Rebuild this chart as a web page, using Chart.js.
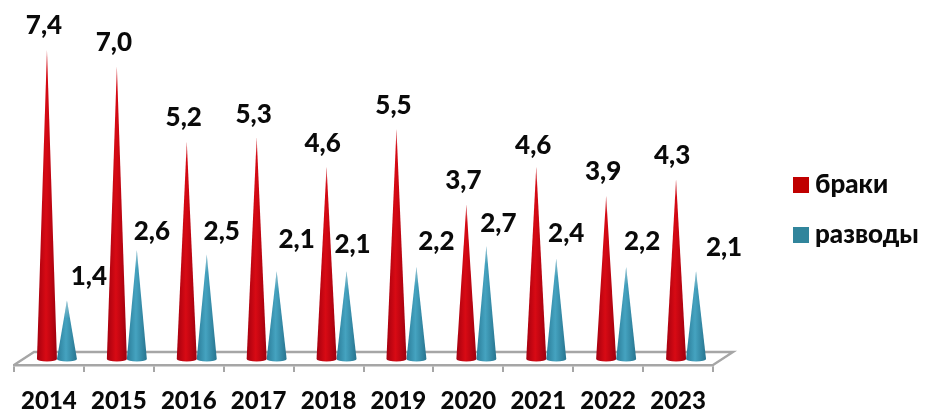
<!DOCTYPE html>
<html><head><meta charset="utf-8">
<style>html,body{margin:0;padding:0;background:#fff}canvas{display:block}</style>
<script src="https://cdn.jsdelivr.net/npm/chart.js@4/dist/chart.umd.min.js"></script>
</head><body><canvas id="c" width="925" height="412"></canvas>
<script>
const years = ['2014','2015','2016','2017','2018','2019','2020','2021','2022','2023'];
const marriages = [7.4,7.0,5.2,5.3,4.6,5.5,3.7,4.6,3.9,4.3];
const divorces = [1.4,2.6,2.5,2.1,2.1,2.2,2.7,2.4,2.2,2.1];
const seriesNames = ['браки','разводы'];
const marriageLabelDx = [-3,-3,-3,-3,-4,-3,-3,-3,-3,-4];
const marriageLabelDy = [-24,-24,-24,-23,-23,-23,-24,-21,-24,-24];
const divorceLabelDx = [22,15,15,20,6,20,12,10,16,28];
const divorceLabelDy = [-24,-19,-23,-32,-27,-25,-23,-25,-25,-24];

const FAMILY = 'Lato, "Open Sans", sans-serif';
const FONT = '900 26px ' + FAMILY;
const SHADES = {'#c00000':['#a4000f','#d80a14','#a0000f'],'#31859c':['#2a7c98','#45a3c0','#27748f']};
const DEPTH_X = 8, DEPTH_Y = 6, FLOOR_X = 20, FLOOR_Y = 13, AXIS = '#a6a6a6';

Chart.BarElement.prototype.draw = function(ctx){
  const {x,y,base,width} = this.getProps(['x','y','base','width']);
  const cx = x + DEPTH_X, tip = y - DEPTH_Y, by = base - DEPTH_Y, r = width/2;
  const s = SHADES[this.options.backgroundColor];
  const g = ctx.createLinearGradient(cx-r,0,cx+r,0);
  g.addColorStop(0,s[0]); g.addColorStop(.45,s[1]); g.addColorStop(1,s[2]);
  const path = () => { ctx.beginPath(); ctx.moveTo(cx,tip); ctx.lineTo(cx+r,by);
    ctx.ellipse(cx,by,r,2.6,0,0,Math.PI); ctx.closePath(); };
  ctx.save(); ctx.fillStyle = g; path(); ctx.fill();
  const f = ctx.createLinearGradient(0,tip,0,tip+18);
  f.addColorStop(0,'rgba(225,225,225,.55)'); f.addColorStop(1,'rgba(225,225,225,0)');
  ctx.fillStyle = f; path(); ctx.fill(); ctx.restore();
};

const floorPlugin = {id:'floor', beforeDatasetsDraw(chart){
  const {ctx,chartArea:a} = chart;
  ctx.save(); ctx.strokeStyle = AXIS; ctx.lineWidth = 2.4; ctx.beginPath();
  ctx.moveTo(a.left,a.bottom); ctx.lineTo(a.left+FLOOR_X,a.bottom-FLOOR_Y);
  ctx.lineTo(a.right+FLOOR_X,a.bottom-FLOOR_Y); ctx.lineTo(a.right,a.bottom); ctx.stroke();
  ctx.restore();
}};
const textPlugin = {id:'texts', afterDatasetsDraw(chart){
  const ctx = chart.ctx;
  ctx.save(); ctx.font = FONT; ctx.fillStyle = '#0a0a0a'; ctx.textAlign='center'; ctx.textBaseline='middle';
  const dxs=[marriageLabelDx,divorceLabelDx], dys=[marriageLabelDy,divorceLabelDy];
  chart.data.datasets.forEach((ds,d)=>{
    chart.getDatasetMeta(d).data.forEach((el,i)=>{
      ctx.fillText(ds.data[i].toFixed(1).replace('.',','), el.x+DEPTH_X+dxs[d][i], el.y-DEPTH_Y+dys[d][i]);
    });
  });
  ctx.textAlign='left';
  chart.data.datasets.forEach((ds,d)=>{
    const ly = 185 + d*50;
    ctx.fillStyle = ds.backgroundColor; ctx.fillRect(793,ly-8,16,16);
    ctx.fillStyle = '#0a0a0a'; ctx.fillText(ds.label,815,ly);
  });
  ctx.restore();
}};

new Chart(document.getElementById('c'),{
  type:'bar',
  data:{labels:years,datasets:[
    {label:seriesNames[0],data:marriages,backgroundColor:'#c00000'},
    {label:seriesNames[1],data:divorces,backgroundColor:'#31859c'}
  ]},
  options:{
    responsive:false,animation:false,
    layout:{padding:{left:14,right:212,top:30.6,bottom:0}},
    datasets:{bar:{categoryPercentage:.572,barPercentage:1}},
    plugins:{legend:{display:false},tooltip:{enabled:false}},
    scales:{
      y:{display:false,min:0,max:8},
      x:{
        afterFit(s){s.height=47;},
        border:{color:AXIS,width:2.4},
        grid:{drawOnChartArea:false,color:AXIS,lineWidth:2,tickLength:7},
        ticks:{color:'#0a0a0a',font:{family:FAMILY,size:24,weight:'900'},padding:15,maxRotation:0,autoSkip:false}
      }
    }
  },
  plugins:[floorPlugin,textPlugin]
});
</script></body></html>
